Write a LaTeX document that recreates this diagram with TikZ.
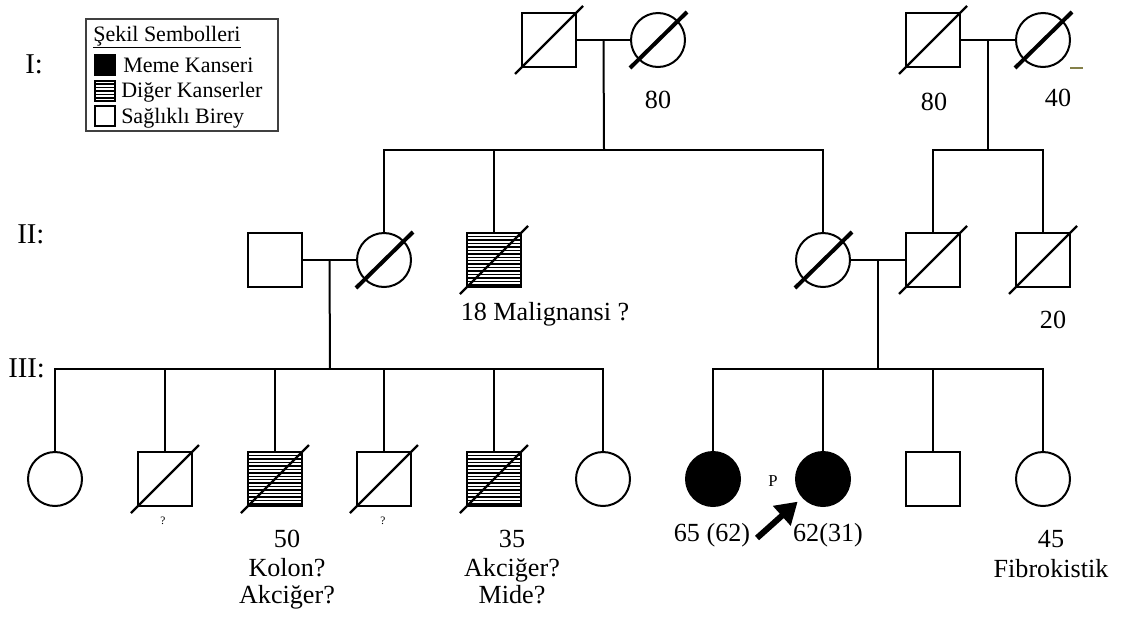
\documentclass[tikz,border=0pt]{standalone}
\usepackage{fontspec}
\setmainfont{Liberation Serif}
\usetikzlibrary{arrows.meta,calc}

\tikzset{
  male/.style={draw,rectangle,minimum size=40.5pt,inner sep=0pt,line width=1.5pt},
  female/.style={draw,circle,minimum size=40.5pt,inner sep=0pt,line width=1.5pt},
  hatched/.style={path picture={\foreach \k in {1,...,16}
      \draw[line width=1.1pt] ([yshift=-\k*2.6pt]path picture bounding box.north west)
        -- ([yshift=-\k*2.6pt]path picture bounding box.north east);}},
  rel/.style={line width=1.5pt},
  sqslash/.style={line width=1.8pt},
  cislash/.style={line width=3pt},
  probarrow/.style={line width=4.5pt,-{Triangle[length=16pt,width=19pt]},shorten >=4.5pt},
  lbl/.style={font=\fontsize{19.6}{24}\selectfont,inner sep=0pt,anchor=base},
  qm/.style={font=\fontsize{8.5}{10}\selectfont,inner sep=0pt,anchor=base},
  gen/.style={font=\fontsize{21.5}{26}\selectfont,inner sep=0pt,anchor=base west},
  leg/.style={font=\fontsize{16.5}{20}\selectfont,inner sep=0pt,anchor=base west},
  legsq/.style={draw,rectangle,minimum size=15pt,inner sep=0pt,line width=1.5pt},
  legbox/.style={draw=black!75,line width=0.8pt}
}

\begin{document}
\begin{tikzpicture}[x=0.75pt,y=-0.75pt]
  \useasboundingbox (0,0) rectangle (1124,618);
  % legend
  \draw[legbox] (86,19) rectangle (278,131);
  \node[leg] (legt) at (93,41) {\underline{Şekil Sembolleri}};
  \node[legsq,fill=black] (lg1) at (105,65) {};
  \node[legsq,hatched] (lg2) at (105,90.5) {};
  \node[legsq] (lg3) at (105,116) {};
  \node[leg] (lg1t) at (123,72) {Meme Kanseri};
  \node[leg] (lg2t) at (121,97) {Diğer Kanserler};
  \node[leg] (lg3t) at (121,123) {Sağlıklı Birey};
  % generations
  \node[gen] (g1) at (25,73) {I:};
  \node[gen] (g2) at (17,243) {II:};
  \node[gen] (g3) at (8,377) {III:};
  % generation I
  \node[male] (i1) at (549,40) {};
  \node[female] (i2) at (658,40) {};
  \node[male] (i3) at (933,40) {};
  \node[female] (i4) at (1043,40) {};
  % generation II
  \node[male] (ii1) at (275,260) {};
  \node[female] (ii2) at (384,260) {};
  \node[male,hatched] (ii3) at (494,260) {};
  \node[female] (ii4) at (823,260) {};
  \node[male] (ii5) at (933,260) {};
  \node[male] (ii6) at (1043,260) {};
  % generation III
  \node[female] (iii1) at (55,479) {};
  \node[male] (iii2) at (165,479) {};
  \node[male,hatched] (iii3) at (275,479) {};
  \node[male] (iii4) at (384,479) {};
  \node[male,hatched] (iii5) at (494,479) {};
  \node[female] (iii6) at (603,479) {};
  \node[female,fill=black] (iii7) at (713,479) {};
  \node[female,fill=black] (iii8) at (823,479) {};
  \node[male] (iii9) at (933,479) {};
  \node[female] (iii10) at (1043,479) {};
  % deceased
  \foreach \n in {i1,i3,ii3,ii5,ii6,iii2,iii3,iii4,iii5}
    \draw[sqslash] ($(\n)+(-34,34)$) -- ($(\n)+(34,-34)$);
  \foreach \n in {i2,i4,ii2,ii4}
    \draw[cislash] ($(\n)+(-28,28)$) -- ($(\n)+(29,-28)$);
  % marriages and sibships
  \coordinate (m1) at ($(i1)!0.5!(i2)$);
  \coordinate (s1) at (604,150);
  \coordinate (m2) at ($(i3)!0.5!(i4)$);
  \coordinate (s2) at (988,150);
  \coordinate (m3) at ($(ii1)!0.5!(ii2)$);
  \coordinate (s3) at (330,369);
  \coordinate (m4) at ($(ii4)!0.5!(ii5)$);
  \coordinate (s4) at (878,369);
  \draw[rel] (i1) -- (i2);
  \draw[rel] (i3) -- (i4);
  \draw[rel] (ii1) -- (ii2);
  \draw[rel] (ii4) -- (ii5);
  \draw[rel] (m1) -- (s1);
  \draw[rel] (m2) -- (s2);
  \draw[rel] (m3) -- (s3);
  \draw[rel] (m4) -- (s4);
  \draw[rel] (ii2) |- (s1) -| (ii4);
  \draw[rel] (ii3 |- s1) -- (ii3);
  \draw[rel] (ii5) |- (s2) -| (ii6);
  \draw[rel] (iii1) |- (s3) -| (iii6);
  \foreach \c in {iii2,iii3,iii4,iii5}
    \draw[rel] (\c |- s3) -- (\c);
  \draw[rel] (iii7) |- (s4) -| (iii10);
  \foreach \c in {iii8,iii9}
    \draw[rel] (\c |- s4) -- (\c);
  % proband
  \coordinate (parr) at (757,538);
  \draw[probarrow] (parr) -- (iii8);
  \node[font=\fontsize{12.5}{14}\selectfont,inner sep=0pt,anchor=base] (pb) at (773,486) {P};
  % ages and notes
  \node[lbl] (a2) at (658,108) {80};
  \node[lbl] (a3) at (934,110) {80};
  \node[lbl] (a4) at (1058,106) {40};
  \draw[line width=1pt,black!55!yellow] (1070,68) -- (1083,68);
  \node[lbl] (aii3) at (545,320) {18 Malignansi ?};
  \node[lbl] (aii6) at (1053,328) {20};
  \node[qm] (qiii2) at (163,524) {?};
  \node[qm] (qiii4) at (383,524) {?};
  \node[lbl] (aiii3) at (287,547) {50};
  \node[lbl] (diii3a) at (287,576) {Kolon?};
  \node[lbl] (diii3b) at (287,603) {Akciğer?};
  \node[lbl] (aiii5) at (512,547) {35};
  \node[lbl] (diii5a) at (512,576) {Akciğer?};
  \node[lbl] (diii5b) at (512,603) {Mide?};
  \node[lbl] (aiii7) at (712,541) {65 (62)};
  \node[lbl] (aiii8) at (828,541) {62(31)};
  \node[lbl] (aiii10) at (1051,547) {45};
  \node[lbl] (diii10) at (1051,577) {Fibrokistik};
\end{tikzpicture}
\end{document}
